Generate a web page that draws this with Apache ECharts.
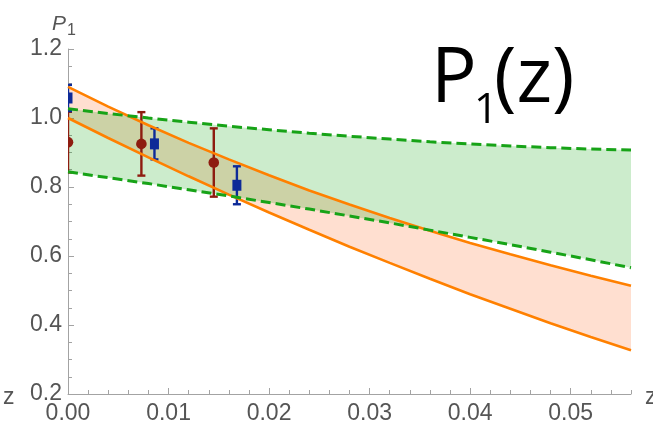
<!DOCTYPE html>
<html><head><meta charset="utf-8">
<script src="https://cdn.jsdelivr.net/npm/echarts@6/dist/echarts.min.js"></script>
<style>html,body{margin:0;padding:0;background:#fff}#c{width:653px;height:425px}</style>
</head><body><div id="c"></div>
<script>
// ---- data ----
const zGrid       = [0, 0.004, 0.008, 0.012, 0.016, 0.020, 0.024, 0.028, 0.032, 0.036, 0.040, 0.044, 0.048, 0.052, 0.056];
const orangeUpper = [1.090, 1.033, 0.979, 0.928, 0.880, 0.834, 0.790, 0.749, 0.710, 0.673, 0.638, 0.605, 0.573, 0.543, 0.514];
const orangeLower = [1.000, 0.942, 0.886, 0.831, 0.778, 0.726, 0.676, 0.627, 0.580, 0.534, 0.489, 0.447, 0.405, 0.365, 0.327];
const greenUpper  = [1.027, 1.013, 1.000, 0.988, 0.976, 0.966, 0.956, 0.947, 0.939, 0.931, 0.925, 0.919, 0.914, 0.910, 0.907];
const greenLower  = [0.844, 0.827, 0.810, 0.792, 0.774, 0.755, 0.736, 0.716, 0.696, 0.675, 0.654, 0.633, 0.611, 0.589, 0.566];

const redZ   = [0, 0.0073, 0.0145];
const redP   = [0.930, 0.925, 0.871];
const redErr = [0.088, 0.092, 0.099];

const blueZ   = [0, 0.0086, 0.0168];
const blueP   = [1.058, 0.925, 0.805];
const blueErr = [0.038, 0.045, 0.055];

const xTicks = [0, 0.01, 0.02, 0.03, 0.04, 0.05];
const yTicks = [0.2, 0.4, 0.6, 0.8, 1.0, 1.2];
const xMin = 0, xMax = 0.056, yMin = 0.2, yMax = 1.2;

// ---- styling ----
const AX = '#a3a3a3', LBL = '#555555', FONT = 'Liberation Sans';
const ORANGE = '#ff8000', GREEN = '#17a317';
const RED = '#8e1c10', BLUE = '#0d2a98';

const xMinor = [];
for (let k = 0; k <= 28; k++) { if (k % 5 !== 0) xMinor.push(+(k * 0.002).toFixed(3)); }

function zip(xs, ys) { return xs.map((x, i) => [x, ys[i]]); }

function band(upper, lower, fill) {
  return {
    type: 'custom', clip: true, silent: true, animation: false,
    data: [[zGrid[0], upper[0]]],
    encode: { x: 0, y: 1 },
    renderItem: function (params, api) {
      const pts = [];
      for (let i = 0; i < zGrid.length; i++) pts.push(api.coord([zGrid[i], upper[i]]));
      for (let i = zGrid.length - 1; i >= 0; i--) pts.push(api.coord([zGrid[i], lower[i]]));
      return { type: 'polygon', shape: { points: pts }, style: { fill: fill } };
    }
  };
}

function line(ys, color, width, dash) {
  return {
    type: 'line', data: zip(zGrid, ys), showSymbol: false, smooth: false,
    silent: true, animation: false, clip: true,
    lineStyle: { color: color, width: width, type: dash || 'solid' }
  };
}

function errorSeries(zs, ps, es, color, shape) {
  return {
    type: 'custom', clip: true, silent: true, animation: false,
    data: zs.map((z, i) => [z, ps[i], es[i]]),
    encode: { x: 0, y: 1 },
    renderItem: function (params, api) {
      const z = api.value(0), p = api.value(1), e = api.value(2);
      const c = api.coord([z, p]);
      const t = api.coord([z, p + e]);
      const b = api.coord([z, p - e]);
      const cap = 4, lw = 2.4;
      const st = { stroke: color, lineWidth: lw };
      const mark = shape === 'circle'
        ? { type: 'circle', shape: { cx: c[0], cy: c[1], r: 5.3 }, style: { fill: color } }
        : { type: 'rect', shape: { x: c[0] - 4.5, y: c[1] - 5.5, width: 9, height: 11 }, style: { fill: color } };
      return {
        type: 'group', children: [
          { type: 'line', shape: { x1: c[0], y1: t[1], x2: c[0], y2: b[1] }, style: st },
          { type: 'line', shape: { x1: c[0] - cap, y1: t[1], x2: c[0] + cap, y2: t[1] }, style: st },
          { type: 'line', shape: { x1: c[0] - cap, y1: b[1], x2: c[0] + cap, y2: b[1] }, style: st },
          mark
        ]
      };
    }
  };
}

const chart = echarts.init(document.getElementById('c'), null, { renderer: 'canvas' });
chart.setOption({
  animation: false,
  backgroundColor: '#ffffff',
  grid: { left: 68, right: 22, top: 49, bottom: 29, containLabel: false },
  xAxis: [{
    type: 'value', min: xMin, max: xMax,
    axisLine: { show: true, onZero: false, lineStyle: { color: AX, width: 1 } },
    axisTick: { show: true, inside: true, length: 6, customValues: xTicks, lineStyle: { color: AX } },
    axisLabel: { customValues: xTicks, formatter: v => v.toFixed(2), color: LBL, fontSize: 23, fontFamily: FONT, margin: 8 },
    splitLine: { show: false }
  }, {
    type: 'value', min: xMin, max: xMax, position: 'bottom',
    axisLine: { show: false },
    axisTick: { show: true, inside: true, length: 4, customValues: xMinor, lineStyle: { color: AX } },
    axisLabel: { show: false }, splitLine: { show: false }
  }],
  yAxis: {
    type: 'value', min: yMin, max: yMax, interval: 0.2,
    axisLine: { show: true, onZero: false, lineStyle: { color: AX, width: 1 } },
    axisTick: { show: true, inside: true, length: 6, lineStyle: { color: AX } },
    minorTick: { show: true, splitNumber: 4, length: 4, lineStyle: { color: AX } },
    axisLabel: { formatter: v => v.toFixed(1), color: LBL, fontSize: 23, fontFamily: FONT, margin: 6 },
    splitLine: { show: false }
  },
  series: [
    band(orangeUpper, orangeLower, 'rgba(255,110,40,0.22)'),
    line(orangeUpper, ORANGE, 2.6),
    line(orangeLower, ORANGE, 2.6),
    band(greenUpper, greenLower, 'rgba(0,160,0,0.2)'),
    line(greenUpper, GREEN, 3, [10, 5]),
    line(greenLower, GREEN, 3, [10, 5]),
    errorSeries(redZ, redP, redErr, RED, 'circle'),
    errorSeries(blueZ, blueP, blueErr, BLUE, 'square')
  ],
  graphic: [
    { type: 'text', x: 52, y: 24, style: { text: 'P', font: 'italic 21px "Liberation Sans"', fill: LBL, textVerticalAlign: 'middle' } },
    { type: 'text', x: 67, y: 31, style: { text: '1', font: '16px "Liberation Sans"', fill: LBL, textVerticalAlign: 'middle' } },
    { type: 'text', x: 3, y: 398, style: { text: 'z', font: '23px "Liberation Sans"', fill: LBL, textVerticalAlign: 'middle' } },
    { type: 'text', x: 645, y: 398, style: { text: 'z', font: '23px "Liberation Sans"', fill: LBL, textVerticalAlign: 'middle' } },
    { type: 'text', x: 431, y: 80, style: { text: 'P', font: '76px "Open Sans"', fill: '#000', textVerticalAlign: 'middle' } },
    { type: 'text', x: 474, y: 111, style: { text: '1', font: '42px "Open Sans"', fill: '#000', textVerticalAlign: 'middle' } },
    { type: 'text', x: 494, y: 80, style: { text: '(z)', font: '76px "Open Sans"', fill: '#000', textVerticalAlign: 'middle' } }
  ]
});
</script></body></html>
